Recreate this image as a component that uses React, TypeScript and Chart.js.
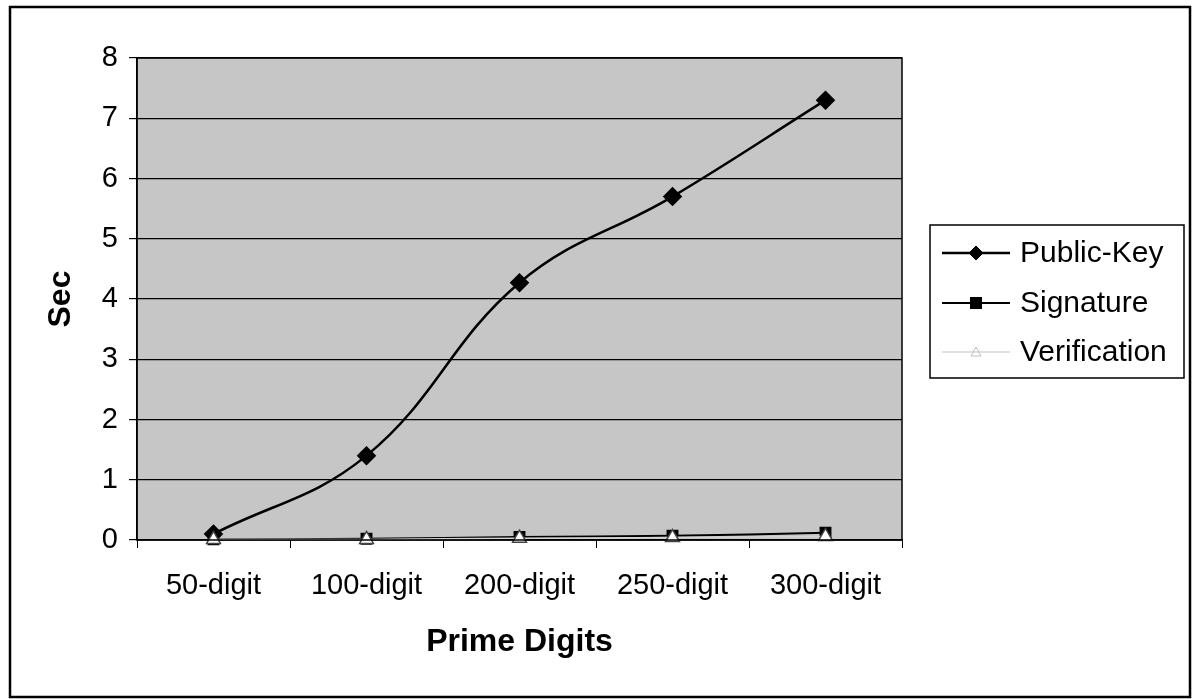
import React, { useEffect, useRef } from "react";
import { Chart, registerables } from "chart.js";

Chart.register(...registerables);

// Key-generation / signing / verification timing per prime size
const categories = ["50-digit", "100-digit", "200-digit", "250-digit", "300-digit"];
const publicKeySec = [0.1, 1.4, 4.27, 5.7, 7.3];
const signatureSec = [0.01, 0.02, 0.05, 0.07, 0.12];
const verificationSec = [0.01, 0.01, 0.03, 0.04, 0.06];
const seriesNames = ["Public-Key", "Signature", "Verification"];
const yMin = 0;
const yMax = 8;
const yStep = 1;

const FONT = "'Liberation Sans', Arial, sans-serif";

const W = 1196;
const H = 699;

// Draws the plot background, plot border, outer frame and the boxed legend
const framePlugin = {
  id: "frame",
  beforeDraw(chart: any) {
    const { ctx, chartArea } = chart;
    ctx.save();
    ctx.fillStyle = "#ffffff";
    ctx.fillRect(0, 0, chart.width, chart.height);
    ctx.fillStyle = "#c6c6c6";
    ctx.fillRect(chartArea.left, chartArea.top, chartArea.right - chartArea.left, chartArea.bottom - chartArea.top);
    ctx.restore();
  },
  afterDraw(chart: any) {
    const { ctx, chartArea } = chart;
    ctx.save();
    // plot border
    ctx.strokeStyle = "#000";
    ctx.lineWidth = 1.5;
    ctx.strokeRect(chartArea.left, chartArea.top, chartArea.right - chartArea.left, chartArea.bottom - chartArea.top);

    // outer frame
    ctx.lineWidth = 2.5;
    ctx.strokeRect(10, 7, 1180, 690);

    // legend
    const lx = 930, ly = 225, lw = 254, lh = 153;
    ctx.fillStyle = "#fff";
    ctx.fillRect(lx, ly, lw, lh);
    ctx.lineWidth = 1.5;
    ctx.strokeStyle = "#000";
    ctx.strokeRect(lx, ly, lw, lh);

    const rows = [253, 303, 352];
    const ds = chart.data.datasets;
    rows.forEach((ry, i) => {
      const d = ds[i];
      ctx.strokeStyle = d.borderColor;
      ctx.lineWidth = d.borderWidth;
      ctx.beginPath();
      ctx.moveTo(942, ry);
      ctx.lineTo(1010, ry);
      ctx.stroke();
      const cx = 976;
      ctx.fillStyle = d.pointBackgroundColor;
      ctx.strokeStyle = d.pointBorderColor;
      ctx.lineWidth = 1;
      if (i === 0) {
        const r = 7;
        ctx.beginPath();
        ctx.moveTo(cx, ry - r);
        ctx.lineTo(cx + r, ry);
        ctx.lineTo(cx, ry + r);
        ctx.lineTo(cx - r, ry);
        ctx.closePath();
        ctx.fill();
        ctx.stroke();
      } else if (i === 1) {
        ctx.fillRect(cx - 6, ry - 6, 12, 12);
      } else {
        ctx.strokeStyle = "#bdbdbd";
        ctx.beginPath();
        ctx.moveTo(cx, ry - 5);
        ctx.lineTo(cx + 5, ry + 4);
        ctx.lineTo(cx - 5, ry + 4);
        ctx.closePath();
        ctx.stroke();
      }
      ctx.fillStyle = "#000";
      ctx.font = `30px ${FONT}`;
      ctx.textAlign = "left";
      ctx.textBaseline = "middle";
      ctx.fillText(seriesNames[i], 1020, ry + 1);
    });
    ctx.restore();
  },
};

export default function App() {
  const canvasRef = useRef<HTMLCanvasElement | null>(null);

  useEffect(() => {
    const canvas = canvasRef.current;
    if (!canvas) return;
    const chart = new Chart(canvas, {
      type: "line",
      data: {
        labels: categories,
        datasets: [
          {
            label: seriesNames[0],
            data: publicKeySec,
            borderColor: "#000",
            borderWidth: 2.5,
            tension: 0.4,
            pointStyle: "rectRot",
            pointRadius: 8,
            pointBackgroundColor: "#000",
            pointBorderColor: "#000",
            clip: false,
            order: 1,
          },
          {
            label: seriesNames[1],
            data: signatureSec,
            borderColor: "#000",
            borderWidth: 2,
            tension: 0.4,
            pointStyle: "rect",
            pointRadius: 7,
            pointBackgroundColor: "#000",
            pointBorderColor: "#000",
            clip: false,
            order: 2,
          },
          {
            label: seriesNames[2],
            data: verificationSec,
            borderColor: "#d4d4d4",
            borderWidth: 1.5,
            tension: 0.4,
            pointStyle: "triangle",
            pointRadius: 8,
            pointBackgroundColor: "#ffffff",
            pointBorderColor: "#444",
            pointBorderWidth: 1.5,
            clip: false,
            order: 0,
          },
        ],
      },
      options: {
        responsive: false,
        animation: false,
        devicePixelRatio: 1,
        layout: { padding: { left: 0, top: 58, right: 294, bottom: 0 } },
        plugins: {
          legend: { display: false },
          tooltip: { enabled: false },
        },
        scales: {
          x: {
            offset: true,
            grid: {
              offset: true,
              drawOnChartArea: false,
              tickLength: 8,
              color: "#000",
              lineWidth: 1,
            },
            border: { color: "#000", width: 1.5 },
            ticks: {
              color: "#000",
              font: { family: FONT, size: 29 },
              padding: 21,
              maxRotation: 0,
            },
            title: {
              display: true,
              text: "Prime Digits",
              color: "#000",
              font: { family: FONT, size: 32, weight: "bold" },
              padding: { top: 0, bottom: 38 },
            },
            afterFit(scale: any) {
              scale.height = 159;
            },
          },
          y: {
            min: yMin,
            max: yMax,
            grid: {
              color: "#000",
              lineWidth: 1.2,
              tickLength: 8,
            },
            border: { color: "#000", width: 1.5 },
            ticks: {
              stepSize: yStep,
              color: "#000",
              font: { family: FONT, size: 29 },
              padding: 11,
            },
            title: {
              display: true,
              text: "Sec",
              color: "#000",
              font: { family: FONT, size: 32, weight: "bold" },
              padding: { top: 42, bottom: 0 },
            },
            afterFit(scale: any) {
              scale.width = 137;
            },
          },
        },
      },
      plugins: [framePlugin],
    });
    return () => chart.destroy();
  }, []);

  return (
    <div style={{ position: "fixed", left: 0, top: 0, width: W, height: H, background: "#fff" }}>
      <canvas ref={canvasRef} width={W} height={H} style={{ width: W, height: H, display: "block" }} />
    </div>
  );
}
